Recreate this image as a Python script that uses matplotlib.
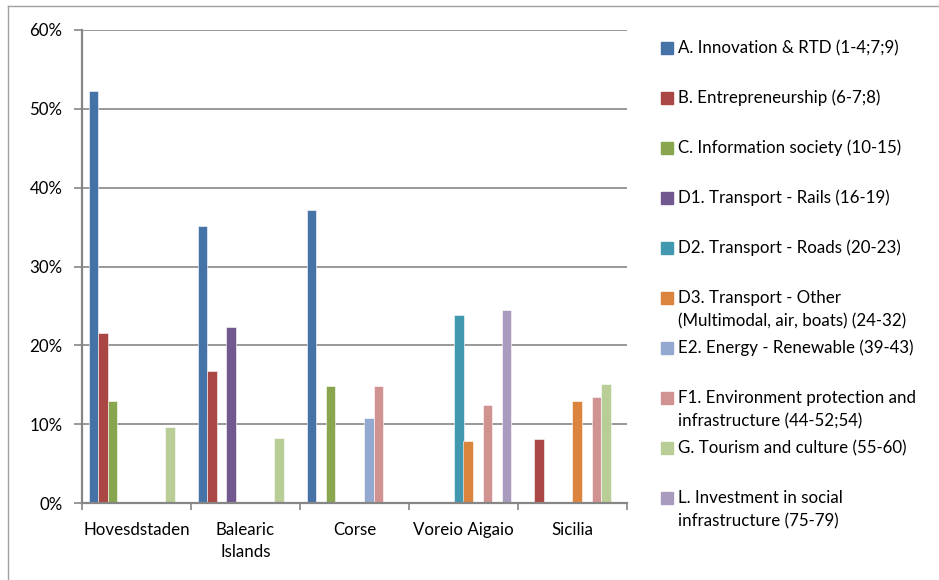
import matplotlib
matplotlib.use("Agg")
import matplotlib.pyplot as plt
from matplotlib.patches import Rectangle
from matplotlib.lines import Line2D
from matplotlib.ticker import FuncFormatter
import numpy as np

plt.rcParams['font.family'] = ['Lato', 'DejaVu Sans']

regions = ["Hovesdstaden", "Balearic\nIslands", "Corse", "Voreio Aigaio", "Sicilia"]

series = [
    "A. Innovation & RTD (1-4;7;9)",
    "B. Entrepreneurship (6-7;8)",
    "C. Information society (10-15)",
    "D1. Transport - Rails (16-19)",
    "D2. Transport - Roads (20-23)",
    "D3. Transport - Other\n(Multimodal, air, boats) (24-32)",
    "E2. Energy - Renewable (39-43)",
    "F1. Environment protection and\ninfrastructure (44-52;54)",
    "G. Tourism and culture (55-60)",
    "L. Investment in social\ninfrastructure (75-79)",
]
colors = ["#4572A7", "#AA4643", "#89A54E", "#71588F", "#4198AF",
          "#DB843D", "#93A9CF", "#D19392", "#B9CD96", "#A99BBD"]

# share per region, one list per series (same order as the regions)
A  = [0.522, 0.351, 0.372, 0.0,   0.0]
B  = [0.216, 0.167, 0.0,   0.0,   0.081]
C  = [0.130, 0.0,   0.148, 0.0,   0.0]
D1 = [0.0,   0.223, 0.0,   0.0,   0.0]
D2 = [0.0,   0.0,   0.0,   0.239, 0.0]
D3 = [0.0,   0.0,   0.0,   0.079, 0.130]
E2 = [0.0,   0.0,   0.108, 0.0,   0.0]
F1 = [0.0,   0.0,   0.148, 0.124, 0.134]
G  = [0.096, 0.083, 0.0,   0.0,   0.151]
L  = [0.0,   0.0,   0.0,   0.245, 0.0]
values = [A, B, C, D1, D2, D3, E2, F1, G, L]

W, H = 939, 580
fs = 12.2
fig = plt.figure(figsize=(W / 100, H / 100), dpi=100)
ax = fig.add_axes([82 / W, 1 - 503 / H, (627 - 82) / W, (503 - 30) / H])

axcol = "#868686"
x = np.arange(len(regions))
gap = 0.128
bw = (1 - gap) / len(series)
for i, (vals, col) in enumerate(zip(values, colors)):
    off = -0.5 + gap / 2 + (i + 0.5) * bw
    v = np.array(vals)
    m = v > 0
    ax.bar(x[m] + off, v[m], width=bw, color=col, edgecolor="white",
           linewidth=0.4, zorder=3)

ax.set_xlim(-0.5, len(regions) - 0.5)
ax.set_ylim(0, 0.6)
ax.set_yticks(np.arange(0, 0.61, 0.1))
ax.yaxis.set_major_formatter(FuncFormatter(lambda v, p: f"{v * 100:.0f}%"))
ax.grid(axis="y", color=axcol, linewidth=1.2, zorder=0)

ax.set_xticks(np.arange(-0.5, len(regions), 1.0))
ax.set_xticklabels([])
ax.set_xticks(x, minor=True)
ax.set_xticklabels(regions, minor=True, fontsize=fs, linespacing=1.4)
ax.tick_params(axis="x", which="minor", length=0, pad=14)
ax.tick_params(axis="x", which="major", length=5, color=axcol, width=1.2)
ax.tick_params(axis="y", length=6, color=axcol, width=1.2, pad=8, labelsize=fs)

for s in ["top", "right"]:
    ax.spines[s].set_visible(False)
for s in ["left", "bottom"]:
    ax.spines[s].set_color(axcol)
    ax.spines[s].set_linewidth(1.6)
ax.spines["bottom"].set_zorder(4)

# legend drawn by hand, one entry every 50 px
for i, (lab, col) in enumerate(zip(series, colors)):
    yc = 48 + 50 * i
    fig.add_artist(Rectangle((661 / W, 1 - (yc + 6) / H), 12 / W, 12 / H,
                             transform=fig.transFigure, color=col))
    for k, line in enumerate(lab.split("\n")):
        fig.text(678 / W, 1 - (yc + 23.5 * k) / H, line, fontsize=fs,
                 va="center", ha="left")

# chart area frame
fig.add_artist(Line2D([8 / W, 8 / W], [0, 1 - 6 / H], transform=fig.transFigure,
                      color="#a0a0a0", linewidth=1))
fig.add_artist(Line2D([8 / W, 1], [1 - 6 / H, 1 - 6 / H], transform=fig.transFigure,
                      color="#a0a0a0", linewidth=1))

fig.savefig("out.png", dpi=100)
